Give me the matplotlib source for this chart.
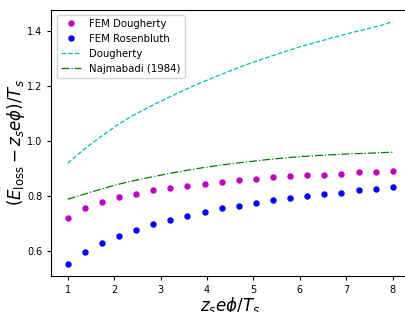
import numpy as np
import matplotlib
matplotlib.use("Agg")
from matplotlib import pyplot as plt

# Values
phi = np.linspace(1, 8, 20)
fem_dougherty = [0.719, 0.754, 0.777, 0.795, 0.808, 0.819, 0.828, 0.836, 0.844, 0.851,
                 0.856, 0.861, 0.867, 0.870, 0.875, 0.877, 0.880, 0.885, 0.886, 0.891]
fem_rosenbluth = [0.552, 0.595, 0.628, 0.655, 0.677, 0.697, 0.713, 0.728, 0.742, 0.754,
                  0.764, 0.773, 0.784, 0.790, 0.800, 0.806, 0.811, 0.819, 0.824, 0.832]

# analytic curves, sampled along the drawn lines
phi_line = [1.00, 1.34, 1.70, 2.05, 2.41, 2.77, 3.13, 3.49, 3.84, 4.20, 4.56,
            4.92, 5.28, 5.64, 5.99, 6.35, 6.71, 7.07, 7.43, 7.78, 8.00]
dougherty = [0.918, 0.967, 1.013, 1.055, 1.092, 1.124, 1.154, 1.183, 1.209, 1.234, 1.258,
             1.281, 1.302, 1.322, 1.341, 1.358, 1.375, 1.391, 1.406, 1.421, 1.433]
najmabadi = [0.787, 0.805, 0.823, 0.840, 0.854, 0.867, 0.879, 0.890, 0.900, 0.909, 0.917,
             0.924, 0.931, 0.937, 0.942, 0.946, 0.949, 0.952, 0.954, 0.957, 0.958]

fig = plt.figure(figsize=(4.05, 3.12), dpi=100)
ax = fig.add_axes([0.127, 0.1154, 0.883, 0.854])

ax.plot(phi, fem_dougherty, 'mo', markersize=3.6, label='FEM Dougherty')
ax.plot(phi, fem_rosenbluth, 'bo', markersize=3.6, label='FEM Rosenbluth')
ax.plot(phi_line, dougherty, 'c--', linewidth=0.9, label='Dougherty')
ax.plot(phi_line, najmabadi, 'g-.', linewidth=0.9, label='Najmabadi (1984)')

ax.set_xlim(0.65, 8.35)
ax.set_ylim(0.508, 1.477)
ax.set_yticks([0.6, 0.8, 1.0, 1.2, 1.4])
ax.tick_params(labelsize=7, length=3)
ax.set_xlabel(r'$z_s e\phi/T_s$', fontsize=12, labelpad=0)
ax.set_ylabel(r'$(E_\mathrm{loss} - z_s e\phi)/T_s$', fontsize=12, labelpad=0)
ax.legend(loc='upper left', fontsize=7.3)

fig.savefig('out.png', dpi=100)
